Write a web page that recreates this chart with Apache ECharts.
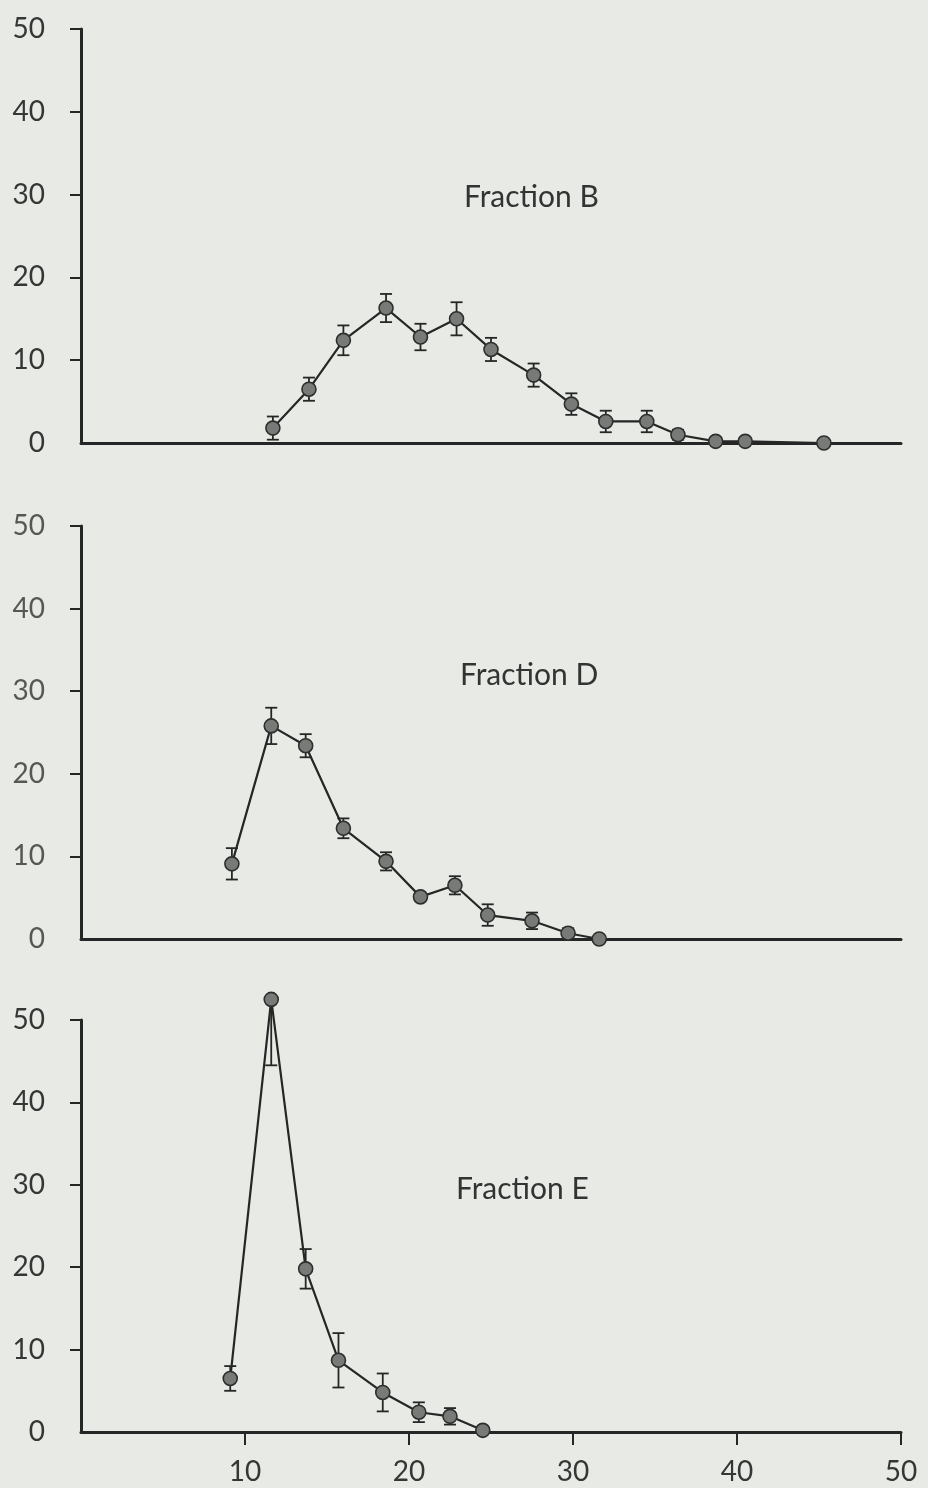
<!DOCTYPE html>
<html>
<head>
<meta charset="utf-8">
<script src="https://cdn.jsdelivr.net/npm/echarts@6/dist/echarts.min.js"></script>
<style>
html,body{margin:0;padding:0;background:#e8ebe5;}
#c{width:928px;height:1488px;}
</style>
</head>
<body>
<div id="c"></div>
<script>
// Fraction B
const bX = [11.7, 13.9, 16.0, 18.6, 20.7, 22.9, 25.0, 27.6, 29.9, 32.0, 34.5, 36.4, 38.7, 40.5, 45.3];
const bY = [1.8, 6.5, 12.4, 16.3, 12.8, 15.0, 11.3, 8.2, 4.7, 2.6, 2.6, 1.0, 0.2, 0.2, 0.0];
const bErrLow = [1.4, 1.4, 1.8, 1.7, 1.6, 2.0, 1.4, 1.4, 1.3, 1.3, 1.3, 0.6, 0, 0, 0];
const bErrHigh = [1.4, 1.4, 1.8, 1.7, 1.6, 2.0, 1.4, 1.4, 1.3, 1.3, 1.3, 0.6, 0, 0, 0];
// Fraction D
const dX = [9.2, 11.6, 13.7, 16.0, 18.6, 20.7, 22.8, 24.8, 27.5, 29.7, 31.6];
const dY = [9.1, 25.8, 23.4, 13.4, 9.4, 5.1, 6.5, 2.9, 2.2, 0.7, 0.0];
const dErrLow = [1.9, 2.2, 1.4, 1.2, 1.1, 0, 1.1, 1.3, 1.0, 0.6, 0];
const dErrHigh = [1.9, 2.2, 1.4, 1.2, 1.1, 0, 1.1, 1.3, 1.0, 0.6, 0];
// Fraction E
const eX = [9.1, 11.6, 13.7, 15.7, 18.4, 20.6, 22.5, 24.5];
const eY = [6.5, 52.5, 19.8, 8.7, 4.8, 2.4, 1.9, 0.2];
const eErrLow = [1.5, 8.0, 2.4, 3.3, 2.3, 1.2, 1.0, 0];
const eErrHigh = [1.5, 0, 2.4, 3.3, 2.3, 1.2, 1.0, 0];

const titles = ['Fraction B', 'Fraction D', 'Fraction E'];
const yTicks = [10, 20, 30, 40, 50];
const yLabels = [0, 10, 20, 30, 40, 50];
const xTicks = [10, 20, 30, 40, 50];

const panels = [
  {x: bX, y: bY, lo: bErrLow, hi: bErrHigh},
  {x: dX, y: dY, lo: dErrLow, hi: dErrHigh},
  {x: eX, y: eY, lo: eErrLow, hi: eErrHigh}
];

const FONT = 'Lato';
const INK = '#262626';
const gridTops = [29, 526, 1020];
const gridHeights = [414, 413, 412];
const labelColors = ['#363636', '#555855', '#363636'];
const titlePos = [{left: 459, top: 177}, {left: 455, top: 655}, {left: 451, top: 1169}];

const grid = [], xAxis = [], yAxis = [], series = [], title = [];
panels.forEach((p, i) => {
  grid.push({left: 81, width: 820, top: gridTops[i], height: gridHeights[i]});
  const last = i === 2;
  xAxis.push({
    type: 'value', gridIndex: i, min: 0, max: 50, interval: 10,
    axisLine: {show: true, onZero: false, lineStyle: {color: INK, width: 3}},
    axisTick: {show: last, length: 13, customValues: xTicks, lineStyle: {color: INK, width: 2}},
    axisLabel: {show: last, customValues: xTicks, margin: 26, color: labelColors[i], fontFamily: FONT, fontSize: 28},
    splitLine: {show: false}
  });
  yAxis.push({
    type: 'value', gridIndex: i, min: 0, max: 50, interval: 10,
    axisLine: {show: true, onZero: false, lineStyle: {color: INK, width: 3}},
    axisTick: {show: true, length: 11, customValues: yTicks, lineStyle: {color: INK, width: 2}},
    axisLabel: {show: true, customValues: yLabels, margin: 36, color: labelColors[i], fontFamily: FONT, fontSize: 28},
    splitLine: {show: false}
  });
  title.push({
    text: titles[i], left: titlePos[i].left, top: titlePos[i].top,
    textStyle: {fontFamily: FONT, fontWeight: 'normal', fontSize: 30, color: '#333'}
  });
  const errData = p.x.map((xv, k) => [xv, p.y[k], p.lo[k], p.hi[k]]);
  series.push({
    type: 'custom', xAxisIndex: i, yAxisIndex: i, clip: false, z: 2,
    data: errData,
    renderItem: function (params, api) {
      const xv = api.value(0), yv = api.value(1), lo = api.value(2), hi = api.value(3);
      if (lo === 0 && hi === 0) return null;
      const a = api.coord([xv, yv - lo]);
      const b = api.coord([xv, yv + hi]);
      const w = 6;
      const children = [];
      const st = {stroke: INK, lineWidth: 1.8, fill: null};
      children.push({type: 'line', shape: {x1: a[0], y1: a[1], x2: b[0], y2: b[1]}, style: st});
      if (lo > 0) children.push({type: 'line', shape: {x1: a[0] - w, y1: a[1], x2: a[0] + w, y2: a[1]}, style: st});
      if (hi > 0) children.push({type: 'line', shape: {x1: b[0] - w, y1: b[1], x2: b[0] + w, y2: b[1]}, style: st});
      return {type: 'group', children: children};
    }
  });
  series.push({
    type: 'line', xAxisIndex: i, yAxisIndex: i, clip: false, z: 3,
    data: p.x.map((xv, k) => [xv, p.y[k]]),
    symbol: 'circle', symbolSize: 14, showSymbol: true,
    lineStyle: {color: INK, width: 2.2},
    itemStyle: {color: '#777a76', borderColor: '#2e2e2e', borderWidth: 1.6},
    animation: false
  });
});

const chart = echarts.init(document.getElementById('c'), null, {renderer: 'canvas'});
chart.setOption({
  backgroundColor: '#e8ebe5',
  animation: false,
  title: title,
  grid: grid,
  xAxis: xAxis,
  yAxis: yAxis,
  series: series
});
</script>
</body>
</html>
